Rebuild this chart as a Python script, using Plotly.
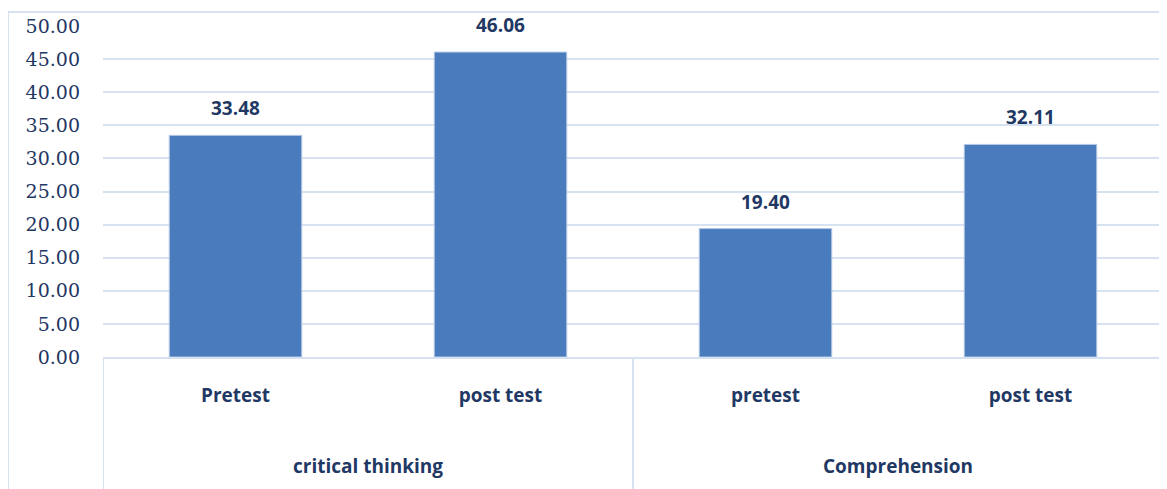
import plotly.graph_objects as go

groups = ["critical thinking", "critical thinking", "Comprehension", "Comprehension"]
subs = ["Pretest", "post test", "pretest", "post test"]
values = [33.48, 46.06, 19.40, 32.11]
y_ticks = [0, 5, 10, 15, 20, 25, 30, 35, 40, 45, 50]

TXT = "#1F3864"
LINE = "#D6E2F1"
OFF = 8  # browser body margin
W, H = 1167 - OFF, 489 - OFF
ML, MR, MT, MB = 103 - OFF, 4, 26 - OFF, 132
PW, PH = W - ML - MR, H - MT - MB
LBL_FONT = dict(family="Open Sans", size=19, color=TXT)

pos = list(range(len(subs)))

fig = go.Figure()
fig.add_trace(go.Bar(
    x=pos, y=values, width=0.5,
    marker=dict(color="#4A7CBD", line=dict(color="#B4C8E4", width=1)),
    hoverinfo="skip", showlegend=False,
))

for p, v in zip(pos, values):
    fig.add_annotation(x=p, y=v, xref="x", yref="y", text=f"<b>{v:.2f}</b>",
                       showarrow=False, yanchor="bottom", yshift=12, font=LBL_FONT)

# group labels and dividers
uniq = []
for g in groups:
    if g not in uniq:
        uniq.append(g)
for g in uniq:
    idx = [i for i, gg in enumerate(groups) if gg == g]
    fig.add_annotation(x=sum(idx) / len(idx), y=-(466 - OFF - (H - MB)) / PH, xref="x", yref="paper",
                       text=f"<b>{g}</b>", showarrow=False, yanchor="middle", font=LBL_FONT)
bounds = [-0.5]
for i in range(1, len(groups)):
    if groups[i] != groups[i - 1]:
        bounds.append(i - 0.5)
bounds.append(len(groups) - 0.5)
for b in bounds:
    fig.add_shape(type="line", xref="x", yref="paper", x0=b, x1=b, y0=0, y1=-0.45,
                  line=dict(color=LINE, width=2))

# outer chart border
bx = (8 - OFF - ML) / PW
by = (H - MB - (12 - OFF)) / PH
fig.add_shape(type="line", xref="paper", yref="paper", x0=bx, x1=bx, y0=by, y1=-0.45,
              line=dict(color=LINE, width=2))
fig.add_shape(type="line", xref="paper", yref="paper", x0=bx, x1=1.05, y0=by, y1=by,
              line=dict(color=LINE, width=2))

fig.update_layout(
    width=W, height=H,
    margin=dict(l=ML, r=MR, t=MT, b=MB),
    paper_bgcolor="white", plot_bgcolor="white",
    bargap=0.5,
    xaxis=dict(range=[-0.5, len(subs) - 0.5], tickvals=pos,
               ticktext=[f"<b>{s}</b>" for s in subs], tickfont=LBL_FONT,
               showgrid=False, zeroline=False, showline=True, linecolor=LINE, linewidth=2,
               ticks="", ticklabelstandoff=20),
    yaxis=dict(range=[0, 50], tickvals=y_ticks, ticktext=[f"{t:.2f}" for t in y_ticks],
               tickfont=dict(family="DejaVu Serif", size=19, color=TXT),
               showgrid=True, gridcolor=LINE, gridwidth=1.5, zeroline=False,
               showline=False, ticks="", ticklabelstandoff=22),
)

fig.write_html("out.html")
